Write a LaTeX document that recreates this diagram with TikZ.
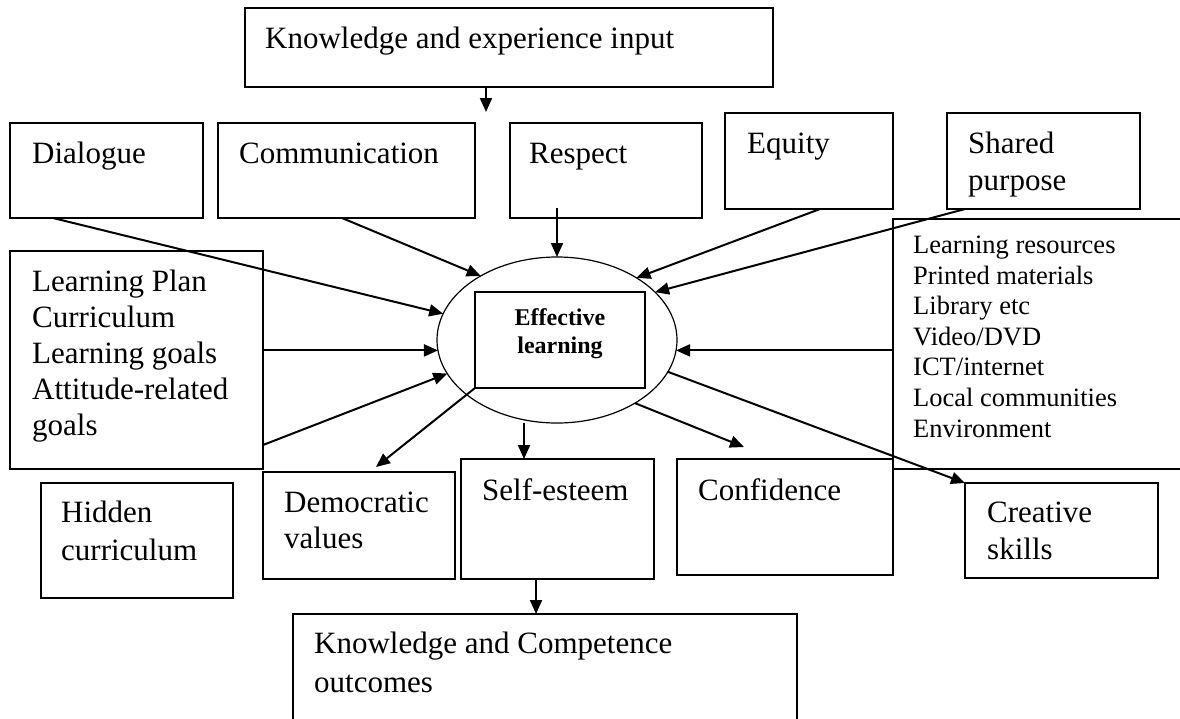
\documentclass[tikz,border=0pt]{standalone}
\usepackage{fontspec}
\setmainfont{Liberation Serif}
\usetikzlibrary{arrows.meta,shapes.geometric,calc}
\begin{document}
\begin{tikzpicture}[x=1pt,y=-1pt,
  box/.style={draw,line width=1.6pt,inner sep=0pt,outer sep=0pt,anchor=north west},
  lbl/.style={inner sep=0pt,anchor=base west,font=\fontsize{31}{36}\selectfont},
  sml/.style={inner sep=0pt,anchor=base west,font=\fontsize{26.5}{31}\selectfont},
  bld/.style={inner sep=0pt,anchor=base,font=\fontsize{24}{28}\selectfont\bfseries},
  arr/.style={line width=2pt,-{Triangle[length=14pt,width=12pt]}}]
\useasboundingbox (0,0) rectangle (1180,718);
\begin{scope}
\clip (0,0) rectangle (1180,718);
% boxes
\node[box,minimum width=528pt,minimum height=79pt] (top) at (245,8) {};
\node[box,minimum width=193pt,minimum height=95pt] (dlg) at (10,123) {};
\node[box,minimum width=257pt,minimum height=95pt] (comm) at (218,123) {};
\node[box,minimum width=192pt,minimum height=95pt] (resp) at (510,123) {};
\node[box,minimum width=168pt,minimum height=96pt] (eq) at (725,113) {};
\node[box,minimum width=193pt,minimum height=96pt] (sp) at (947,113) {};
\node[box,minimum width=253pt,minimum height=218pt] (lp) at (10,251) {};
\node[box,minimum width=300pt,minimum height=250pt] (res) at (893,219) {};
\node[box,minimum width=192pt,minimum height=115pt] (hid) at (41,483) {};
\node[box,minimum width=192pt,minimum height=107pt] (dem) at (263,472) {};
\node[box,minimum width=193pt,minimum height=120pt] (se) at (461,459) {};
\node[box,minimum width=216pt,minimum height=116pt] (conf) at (677,459) {};
\node[box,minimum width=193pt,minimum height=95pt] (cre) at (965,483) {};
\node[box,minimum width=504pt,minimum height=130pt] (kc) at (293,614) {};
\node[draw,ellipse,line width=1.2pt,minimum width=240pt,minimum height=166pt,inner sep=0pt,outer sep=0pt] (ell) at (557,340) {};
\node[box,minimum width=170pt,minimum height=96pt] (eff) at (475,292) {};
% texts
\node[lbl] (t1) at (265,48) {Knowledge and experience input};
\node[lbl] (t2) at (32,163) {Dialogue};
\node[lbl] (t3) at (239,163) {Communication};
\node[lbl] (t4) at (529,163) {Respect};
\node[lbl] (t5) at (747,153) {Equity};
\node[lbl] (t6a) at (968,153) {Shared};
\node[lbl] (t6b) at (968,190) {purpose};
\node[lbl] (l1) at (32,291) {Learning Plan};
\node[lbl] (l2) at (32,327) {Curriculum};
\node[lbl] (l3) at (32,363) {Learning goals};
\node[lbl] (l4) at (32,399) {Attitude-related};
\node[lbl] (l5) at (32,435) {goals};
\node[sml] (r1) at (913,253) {Learning resources};
\node[sml] (r2) at (913,284) {Printed materials};
\node[sml] (r3) at (913,314) {Library etc};
\node[sml] (r4) at (913,345) {Video/DVD};
\node[sml] (r5) at (913,375) {ICT/internet};
\node[sml] (r6) at (913,406) {Local communities};
\node[sml] (r7) at (913,437) {Environment};
\node[lbl] (h1) at (61,522) {Hidden};
\node[lbl] (h2) at (61,560) {curriculum};
\node[lbl] (d1) at (284,512) {Democratic};
\node[lbl] (d2) at (284,548) {values};
\node[lbl] (s1) at (482,500) {Self-esteem};
\node[lbl] (c1) at (698,500) {Confidence};
\node[lbl] (cr1) at (987,522) {Creative};
\node[lbl] (cr2) at (987,559) {skills};
\node[lbl] (k1) at (314,653) {Knowledge and Competence};
\node[lbl] (k2) at (314,692) {outcomes};
\node[bld] (e1) at (560,325) {Effective};
\node[bld] (e2) at (560,353) {learning};
% connectors
\coordinate (topend) at (486,112);
\draw[arr] ([xshift=-23pt]top.south) -- (topend);
\draw[arr] ([xshift=43pt]dlg.south west) -- (ell.167.2);
\draw[arr] ([xshift=124pt]comm.south west) -- (ell.140);
\draw[arr] ([xshift=-49pt,yshift=10pt]resp.south) -- (ell.north);
\draw[arr] ([xshift=95pt]eq.south west) -- (ell.38.2);
\draw[arr] ([xshift=18pt]sp.south west) -- (ell.26.1);
\draw[arr] (lp.east |- ell.185.8) -- (ell.185.8);
\draw[arr] ([yshift=24pt]lp.south east) -- (ell.197.8);
\draw[arr] (res.west |- ell.-5.8) -- (ell.-5.8);
\draw[arr] (eff.south west) -- ([xshift=113pt,yshift=5pt]dem.north west);
\draw[arr] ([xshift=-33pt]ell.south) -- ([xshift=-33pt]ell.south |- se.north);
\draw[arr] (ell.-39.4) -- ([xshift=67pt,yshift=12pt]conf.north west);
\draw[arr] (ell.-16) -- (cre.north west);
\draw[arr] ([xshift=-21.5pt]se.south) -- ([xshift=-21.5pt]se.south |- kc.north);
\end{scope}
\end{tikzpicture}
\end{document}
